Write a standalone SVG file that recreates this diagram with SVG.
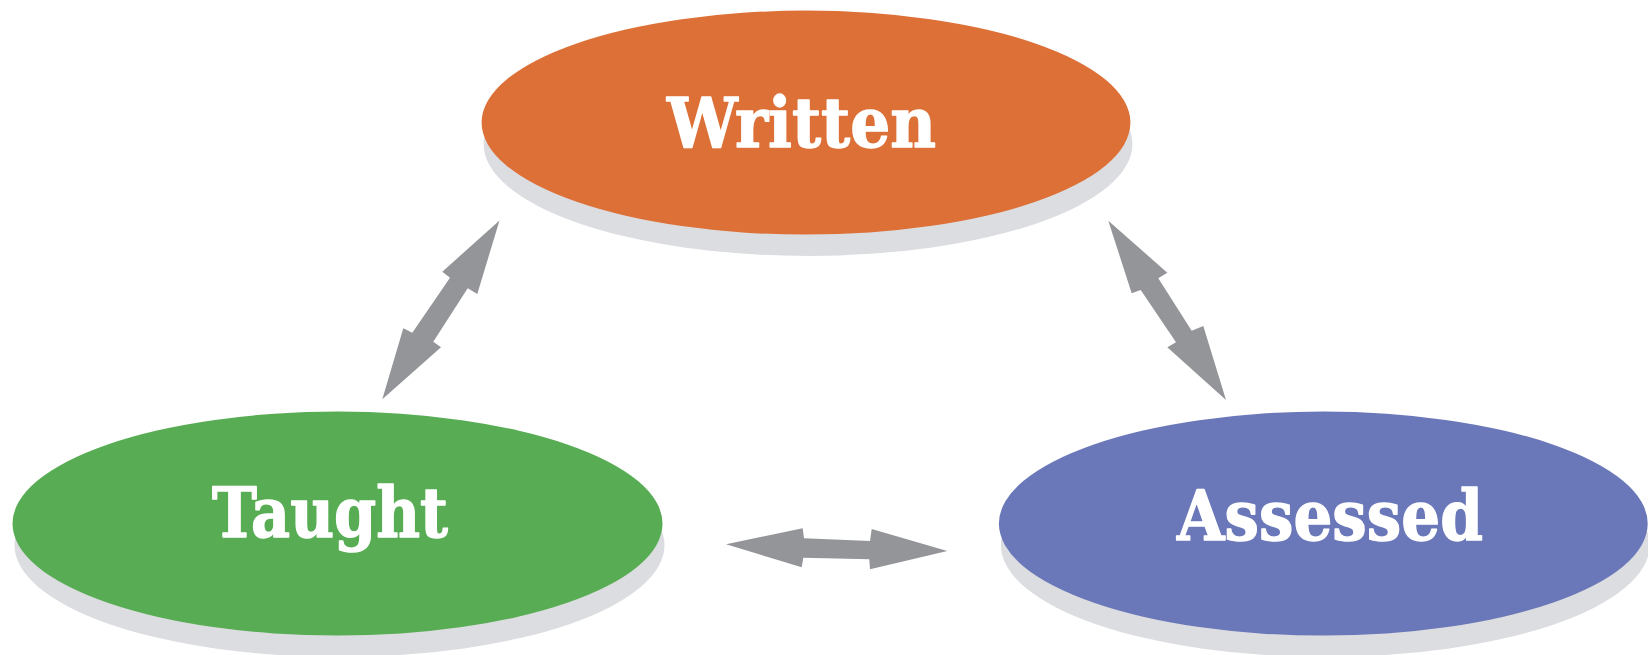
<svg xmlns="http://www.w3.org/2000/svg" width="1648" height="655" viewBox="0 0 1648 655">
  <defs>
    <style>
      .shadow { fill: #dcdde0; }
      .label { font-family: "DejaVu Serif", "Liberation Serif", serif; font-weight: bold; font-size: 70px; fill: #ffffff; stroke: #ffffff; stroke-width: 1.4px; stroke-linejoin: round; }
      .arrow { fill: #939598; }
    </style>
  </defs>
  <rect x="0" y="0" width="1648" height="655" fill="#ffffff"/>
  <g id="connectors">
    <polygon class="arrow" points="499.5,220.5 477.3,294 467.7,288.3 433.3,341.7 441,347.3 382.3,399.3 403.3,328.3 412.3,332.7 450,277.7 442.3,271.7"/>
    <polygon class="arrow" points="1108.3,220.7 1167.3,272.7 1158.3,278.3 1191.7,330.7 1203.3,326 1226,400 1167.3,347.3 1176,342.3 1140.7,290 1131.7,293.3"/>
    <polygon class="arrow" points="726,544.3 802.7,528.3 804,538.3 870,541 871.7,529 947.3,551 870,569.3 869.3,559.3 803.3,557.7 801.7,567.3"/>
  </g>
  <g id="written">
    <ellipse class="shadow" cx="808" cy="144" rx="324.4" ry="112"/>
    <ellipse cx="806" cy="122.6" rx="324.4" ry="112" fill="#dd7036"/>
    <text class="label" x="667" y="147" textLength="269" lengthAdjust="spacingAndGlyphs">Written</text>
  </g>
  <g id="taught">
    <ellipse class="shadow" cx="339.5" cy="545" rx="325" ry="112"/>
    <ellipse cx="337.5" cy="523.6" rx="325" ry="112" fill="#58ad54"/>
    <text class="label" x="212" y="537" textLength="236" lengthAdjust="spacingAndGlyphs">Taught</text>
  </g>
  <g id="assessed">
    <ellipse class="shadow" cx="1325.3" cy="545" rx="324.4" ry="112"/>
    <ellipse cx="1323.3" cy="523.6" rx="324.4" ry="112" fill="#6a77b8"/>
    <text class="label" x="1177" y="540" textLength="306" lengthAdjust="spacingAndGlyphs">Assessed</text>
  </g>
</svg>
